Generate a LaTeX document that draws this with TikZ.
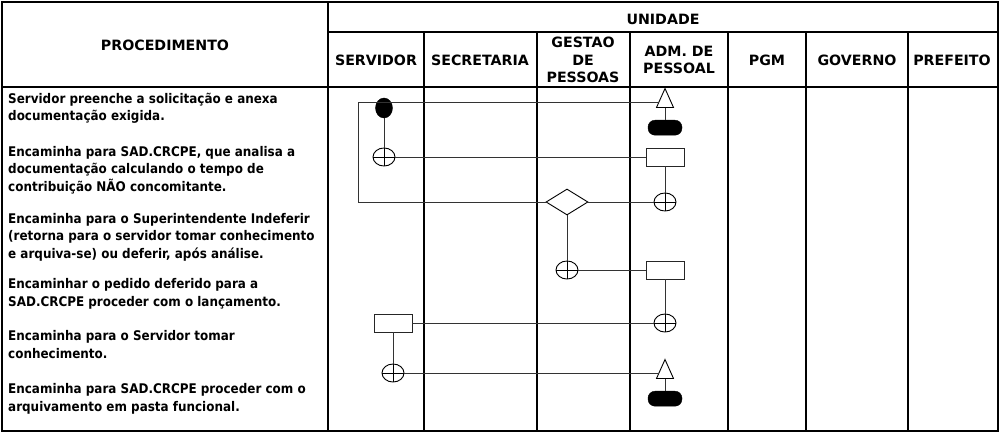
\documentclass[tikz,border=0pt]{standalone}
\usepackage{fontspec}
\setmainfont{DejaVu Sans Condensed}
\newfontfamily\cabfont{DejaVu Sans}
\usepackage{tikz}
\usetikzlibrary{positioning, shapes.geometric}
\tikzset{
    inicio/.style={ellipse, draw=black, fill=black, minimum width=17pt, minimum height=20pt, inner sep=0pt},
    fim/.style={rectangle, rounded corners=7pt, draw=black, fill=black, minimum width=34pt, minimum height=15pt, inner sep=0pt},
    tarefa/.style={rectangle, draw=black!85, fill=white, line width=0.9pt, minimum width=38pt, minimum height=18pt, inner sep=0pt},
    conector/.style={ellipse, draw=black, fill=white, line width=0.9pt, minimum width=22pt, minimum height=18pt, inner sep=0pt,
        path picture={\draw[line width=0.9pt] (path picture bounding box.north) -- (path picture bounding box.south)
            (path picture bounding box.west) -- (path picture bounding box.east);}},
    decisao/.style={diamond, draw=black, fill=white, line width=0.9pt, aspect=1.6, minimum width=42pt, minimum height=26pt, inner sep=0pt},
    arquivo/.style={isosceles triangle, isosceles triangle stretches, shape border rotate=90, draw=black, fill=white, line width=0.9pt, minimum width=17pt, minimum height=19pt, inner sep=0pt},
    fluxo/.style={draw=black!80, line width=1pt},
    grade/.style={draw=black, line width=1.1pt},
    cab/.style={align=center, inner sep=0pt, font=\cabfont\fontsize{14.2}{17.5}\selectfont\bfseries},
    proc/.style={anchor=base west, align=left, inner sep=0pt, font=\fontsize{13.3}{17.3}\selectfont\bfseries},
}

\begin{document}
\begin{tikzpicture}[x=1pt, y=-1pt]
    \useasboundingbox (0,0) rectangle (1000,433);
    % tabela
    \draw[grade] (2,2) rectangle (998,431);
    \draw[grade] (328,2) -- (328,431);
    \draw[grade] (328,32) -- (998,32);
    \draw[grade] (2,87) -- (998,87);
    \draw[grade] (424,32) -- (424,431);
    \draw[grade] (537,32) -- (537,431);
    \draw[grade] (630,32) -- (630,431);
    \draw[grade] (728,32) -- (728,431);
    \draw[grade] (806,32) -- (806,431);
    \draw[grade] (908,32) -- (908,431);

    % cabecalho
    \node[cab] (procedimento) at (165,45) {PROCEDIMENTO};
    \node[cab] (unidade) at (663,19) {UNIDADE};
    \node[cab] (servidor) at (376,60) {SERVIDOR};
    \node[cab] (secretaria) at (480,60) {SECRETARIA};
    \node[cab] (gestao) at (583,60) {GESTAO\\DE\\PESSOAS};
    \node[cab] (adm) at (679,60) {ADM. DE\\PESSOAL};
    \node[cab] (pgm) at (767,60) {PGM};
    \node[cab] (governo) at (857,60) {GOVERNO};
    \node[cab] (prefeito) at (952,60) {PREFEITO};

    % procedimentos (ancorados na linha de base da ultima linha)
    \node[proc] (p1) at (8,121) {Servidor preenche a solicitação e anexa\\documentação exigida.};
    \node[proc] (p2) at (8,191) {Encaminha para SAD.CRCPE, que analisa a\\documentação calculando o tempo de\\contribuição NÃO concomitante.};
    \node[proc] (p3) at (8,258) {Encaminha para o Superintendente Indeferir\\(retorna para o servidor tomar conhecimento\\e arquiva-se) ou deferir, após análise.};
    \node[proc] (p4) at (8,306) {Encaminhar o pedido deferido para a\\SAD.CRCPE proceder com o lançamento.};
    \node[proc] (p5) at (8,358) {Encaminha para o Servidor tomar\\conhecimento.};
    \node[proc] (p6) at (8,411) {Encaminha para SAD.CRCPE proceder com o\\arquivamento em pasta funcional.};

    % fluxo
    \coordinate (canto1) at (358,103);
    \coordinate (canto2) at (358,202);
    \node[inicio] (ini) at (384,108) {};
    \node[conector] (c1) at (384,157) {};
    \node[arquivo] (arq1) at (665,102) {};
    \node[fim] (fim1) [below=12pt of arq1] {};
    \node[tarefa] (t1) at (665,157) {};
    \node[decisao] (d1) at (567,202) {};
    \node[conector] (c2) at (665,202) {};
    \node[conector] (c3) at (567,270) {};
    \node[tarefa] (t2) at (665,270) {};
    \node[conector] (c4) at (665,323) {};
    \node[tarefa] (t3) at (393,323) {};
    \node[conector] (c5) at (393,373) {};
    \node[arquivo] (arq2) at (665,373) {};
    \node[fim] (fim2) [below=12pt of arq2] {};

    \draw[fluxo] (d1.west) -- (canto2) -- (canto1) -- (canto1 -| arq1.west);
    \draw[fluxo] (ini) -- (c1);
    \draw[fluxo] (c1) -- (t1);
    \draw[fluxo] (arq1) -- (fim1);
    \draw[fluxo] (t1) -- (c2);
    \draw[fluxo] (d1) -- (c2);
    \draw[fluxo] (d1) -- (c3);
    \draw[fluxo] (c3) -- (t2);
    \draw[fluxo] (t2) -- (c4);
    \draw[fluxo] (c4) -- (t3);
    \draw[fluxo] (t3) -- (c5);
    \draw[fluxo] (c5) -- (arq2);
    \draw[fluxo] (arq2) -- (fim2);
\end{tikzpicture}
\end{document}
